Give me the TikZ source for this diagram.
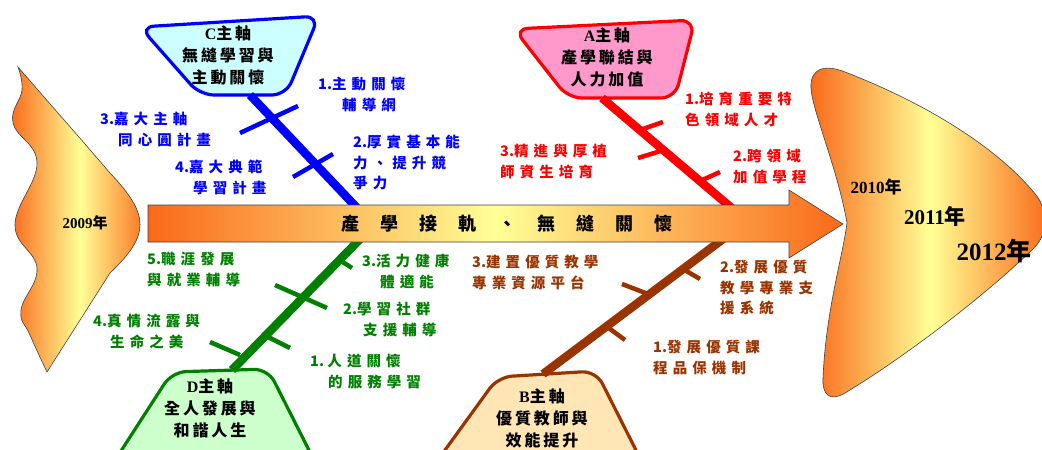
\documentclass[tikz,border=0pt]{standalone}
\usepackage{fontspec}
\usepackage{xcolor}
\setmainfont{Liberation Serif}
\newfontfamily\cjkfont{Noto Sans CJK TC}[LetterSpace=35]
\newfontfamily\cjkhead{Noto Sans CJK TC}[LetterSpace=18]
\newfontfamily\cjkwide{Noto Sans CJK TC}[LetterSpace=117]
\newfontfamily\cjkplain{Noto Sans CJK TC}
\newcommand\yearlbl[1]{{\rmfamily\bfseries #1}{\cjkplain\bfseries 年}}
\newcommand\itemno[1]{{\cjkplain\bfseries #1}}

\definecolor{axisblue}{RGB}{0,0,255}
\definecolor{axisred}{RGB}{255,0,0}
\definecolor{axisbrown}{RGB}{153,51,0}
\definecolor{axisgreen}{RGB}{0,128,0}
\definecolor{fillC}{RGB}{204,255,255}
\definecolor{fillA}{RGB}{255,153,204}
\definecolor{fillB}{RGB}{255,230,180}
\definecolor{fillD}{RGB}{204,255,204}
\definecolor{flowOrange}{RGB}{250,105,25}
\definecolor{flowYellow}{RGB}{255,255,150}
\definecolor{edgeGray}{RGB}{64,64,64}

\begin{document}
\begin{tikzpicture}[x=1pt,y=1pt,yscale=-1,
    bone/.style={line width=8.5pt},
    rib/.style={line width=4.5pt},
    bubble/.style={line width=3.2pt, rounded corners=14pt},
    flow/.style={left color=flowOrange, right color=flowOrange, middle color=flowYellow, draw=edgeGray, line width=0.6pt},
    lbl/.style={anchor=north west, inner sep=0pt, align=left, font=\cjkfont\bfseries\fontsize{14.5}{20.5}\selectfont},
    head/.style={inner sep=0pt, align=center, font=\cjkhead\bfseries\fontsize{16}{22}\selectfont},
    yearnode/.style={inner sep=0pt}]
    \useasboundingbox (0,0) rectangle (1042,450);

    %Shape: 2009 wave [id:left]
    \shadedraw[flow] (18,67) .. controls (50,104) and (80,138) .. (110,173) .. controls (150,215) and (150,235) .. (110,273) -- (47,372)
        -- plot[smooth, tension=0.7] coordinates {(47,372) (30,335) (21,310) (37,268) (15,225) (37,163) (13,123) (22,90) (18,67)} -- cycle;
    %Shape: 2010-2012 fan [id:right]
    \shadedraw[flow] (847,223) .. controls (838,170) and (812,110) .. (811,88) .. controls (810,68) and (825,64) .. (845,72)
        .. controls (930,105) and (1000,150) .. (1036,195) .. controls (1050,213) and (1048,235) .. (1032,250)
        .. controls (980,300) and (900,360) .. (845,393) .. controls (830,402) and (822,395) .. (823,378)
        .. controls (826,310) and (842,260) .. (847,223) -- cycle;

    %Bubbles
    \filldraw[bubble, draw=axisblue, fill=fillC] (140,27) -- (319,16) -- (286,95) -- (200,95) -- cycle;
    \filldraw[bubble, draw=axisred, fill=fillA] (514,29) -- (695,20) -- (675,98) -- (568,98) -- cycle;
    \filldraw[bubble, draw=axisbrown, fill=fillB] (432,468) -- (498,377) -- (596,371) -- (645,468) -- cycle;
    \filldraw[bubble, draw=axisgreen, fill=fillD] (110,468) -- (172,372) -- (268,369) -- (318,468) -- cycle;

    %Bone ends
    \coordinate (Ctail) at (250,95);
    \coordinate (Cjoin) at (359,210);
    \coordinate (Atail) at (602,98);
    \coordinate (Ajoin) at (734,210);
    \coordinate (Btail) at (543,374);
    \coordinate (Bjoin) at (727,236);
    \coordinate (Dtail) at (232,370);
    \coordinate (Djoin) at (363,236);

    %Bones and ribs
    \draw[bone, axisblue] (Ctail) -- (Cjoin);
    \draw[rib, axisblue] (240,133) -- (298,106);
    \draw[rib, axisblue] (293,177) -- (333,154);

    \draw[bone, axisred] (Atail) -- (Ajoin);
    \draw[rib, axisred] (640,130) -- (663,122);
    \draw[rib, axisred] (638,158) -- (664,150);
    \draw[rib, axisred] (700,181) -- (720,172);

    \draw[bone, axisbrown] (Btail) -- (Bjoin);
    \draw[rib, axisbrown] (606,326) -- (625,340);
    \draw[rib, axisbrown] (622,284) -- (648,294);
    \draw[rib, axisbrown] (683,269) -- (700,279);

    \draw[bone, axisgreen] (Dtail) -- (Djoin);
    \draw[rib, axisgreen] (338,259) -- (352,268);
    \draw[rib, axisgreen] (275,285) -- (327,308);
    \draw[rib, axisgreen] (262,334) -- (290,348);
    \draw[rib, axisgreen] (210,342) -- (240,355);

    %Shape: main arrow
    \shadedraw[flow] (148,205) -- (789,205) -- (789,190) -- (843,224) -- (789,258) -- (789,242) -- (148,242) -- cycle;

    % Text Node
    \node[inner sep=0pt, font=\cjkwide\bfseries\fontsize{18}{20}\selectfont] (flowtext) at (507,224) {產學接軌、無縫關懷};
    % Text Node
    \node[yearnode, font=\fontsize{15}{18}\selectfont] (y2009) at (85,223) {\yearlbl{2009}};
    \node[yearnode, font=\fontsize{17}{20}\selectfont] (y2010) at (876,187) {\yearlbl{2010}};
    \node[yearnode, font=\fontsize{21}{24}\selectfont] (y2011) at (935,216) {\yearlbl{2011}};
    \node[yearnode, font=\fontsize{25}{28}\selectfont] (y2012) at (994,251) {\yearlbl{2012}};

    % Text Node
    \node[head] (hC) at (228,55) {{\rmfamily C}主軸\\無縫學習與\\主動關懷};
    \node[head] (hA) at (607,57) {{\rmfamily A}主軸\\產學聯結與\\人力加值};
    \node[head] (hB) at (542,418) {{\rmfamily B}主軸\\優質教師與\\效能提升};
    \node[head] (hD) at (210,408) {{\rmfamily D}主軸\\全人發展與\\和諧人生};

    % Text Node
    \node[lbl, text=axisblue] (c1) at (318,77) {\itemno{1.}主動關懷\\\hspace*{24pt}輔導網};
    \node[lbl, text=axisblue] (c2) at (353,135) {\itemno{2.}厚實基本能\\力、提升競\\爭力};
    \node[lbl, text=axisblue] (c3) at (100,112) {\itemno{3.}嘉大主軸\\\hspace*{18pt}同心圓計畫};
    \node[lbl, text=axisblue] (c4) at (175,160) {\itemno{4.}嘉大典範\\\hspace*{18pt}學習計畫};
    % Text Node
    \node[lbl, text=axisred] (a1) at (685,92) {\itemno{1.}培育重要特\\色領域人才};
    \node[lbl, text=axisred] (a2) at (733,149) {\itemno{2.}跨領域\\加值學程};
    \node[lbl, text=axisred] (a3) at (500,144) {\itemno{3.}精進與厚植\\師資生培育};
    % Text Node
    \node[lbl, text=axisgreen] (d3) at (362,254) {\itemno{3.}活力健康\\\hspace*{18pt}體適能};
    \node[lbl, text=axisgreen] (d2) at (343,302) {\itemno{2.}學習社群\\\hspace*{20pt}支援輔導};
    \node[lbl, text=axisgreen] (d1) at (310,354) {\itemno{1.\ }人道關懷\\\hspace*{18pt}的服務學習};
    \node[lbl, text=axisgreen] (d5) at (147,252) {\itemno{5.}職涯發展\\與就業輔導};
    \node[lbl, text=axisgreen] (d4) at (93,314) {\itemno{4.}真情流露與\\\hspace*{17pt}生命之美};
    % Text Node
    \node[lbl, text=axisbrown] (b3) at (472,255) {\itemno{3.}建置優質教學\\專業資源平台};
    \node[lbl, text=axisbrown] (b2) at (720,260) {\itemno{2.}發展優質\\教學專業支\\援系統};
    \node[lbl, text=axisbrown] (b1) at (653,340) {\itemno{1.}發展優質課\\程品保機制};
\end{tikzpicture}
\end{document}
